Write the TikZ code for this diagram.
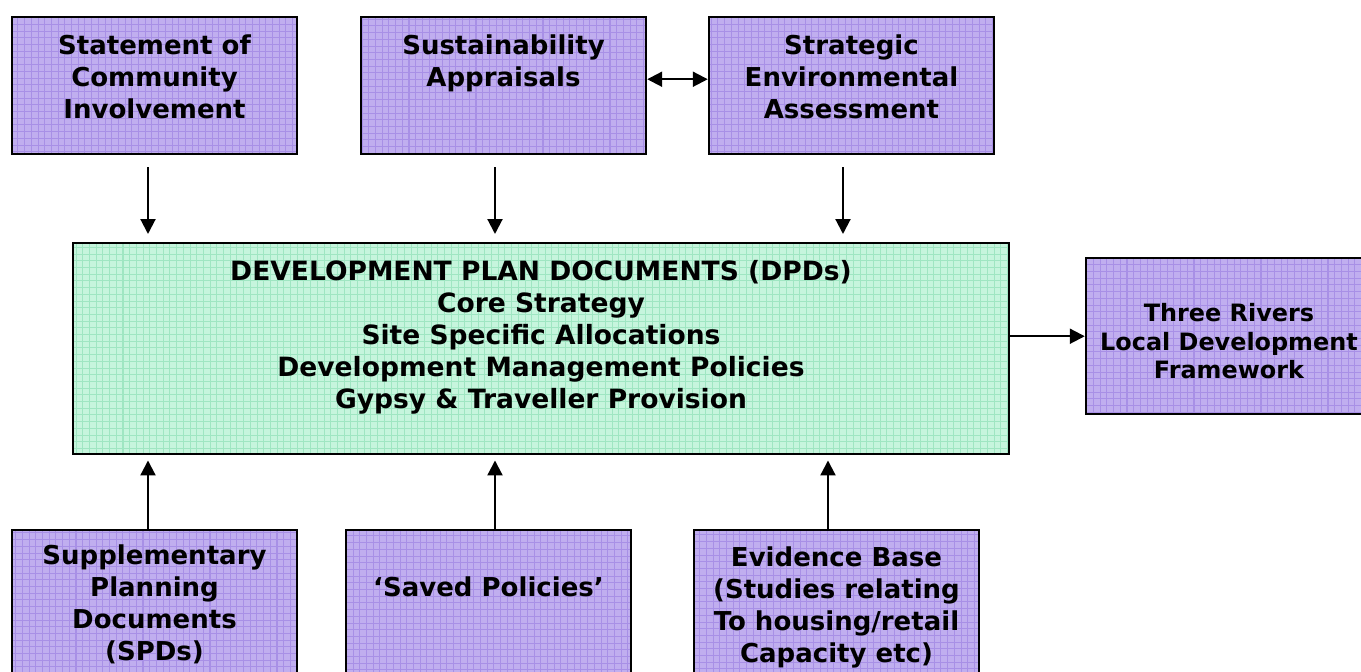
\documentclass[tikz,border=0pt]{standalone}
\usepackage{fontspec}
\setmainfont{DejaVu Sans}
\usetikzlibrary{arrows.meta,positioning}
\definecolor{lilac}{HTML}{C0AEEF}
\definecolor{lilacgrid}{HTML}{A890E6}
\definecolor{mint}{HTML}{C6F5DD}
\definecolor{mintgrid}{HTML}{9FE6C2}

\begin{document}
\begin{tikzpicture}[>={Triangle[length=0.15cm,width=0.15cm]},
  box/.style={draw=black,line width=0.7pt,fill=#1,anchor=north,align=center,
    minimum width=2.85cm,inner ysep=0pt,
    font=\bfseries\fontsize{7.4}{9.1}\selectfont,
    path picture={\draw[#1grid,line width=0.3pt] (path picture bounding box.south west) grid[step=0.067] (path picture bounding box.north east);}},
  box/.default=lilac,
  arrow/.style={->,line width=0.6pt}]
  \useasboundingbox (0,0) rectangle (13.61,-6.72);
  % top row
  \node[box,text height=1.01cm,text depth=0.36cm] (sci) at (1.545,-0.16) {Statement of\\Community\\Involvement};
  \node[box,text height=0.69cm,text depth=0.68cm] (sa) at (5.035,-0.16) {Sustainability\\Appraisals};
  \node[box,text height=1.01cm,text depth=0.36cm] (sea) at (8.515,-0.16) {Strategic\\Environmental\\Assessment};
  % main box and output
  \node[box=mint,minimum width=9.36cm,text height=1.65cm,text depth=0.46cm,font=\bfseries\fontsize{7.55}{9.1}\selectfont] (dpd) at (5.41,-2.42)
    {DEVELOPMENT PLAN DOCUMENTS (DPDs)\\Core Strategy\\Site Specific Allocations\\Development Management Policies\\Gypsy \& Traveller Provision};
  \node[box,minimum width=2.86cm,text height=1.205cm,text depth=0.355cm,font=\bfseries\fontsize{6.8}{8.1}\selectfont] (tr) at (12.29,-2.57)
    {Three Rivers\\Local Development\\Framework};
  % bottom row
  \node[box,text height=1.3cm,text depth=0.2cm] (spd) at (1.545,-5.29) {Supplementary\\Planning\\Documents\\(SPDs)};
  \node[box,text height=0.66cm,text depth=0.84cm] (saved) at (4.885,-5.29) {‘Saved Policies’};
  \node[box,text height=1.32cm,text depth=0.18cm] (evid) at (8.365,-5.29) {Evidence Base\\(Studies relating\\To housing/retail\\Capacity etc)};

  \draw[arrow] ([xshift=-0.065cm,yshift=-0.12cm]sci.south) -- ([xshift=-0.065cm,yshift=0.08cm]sci.south |- dpd.north);
  \draw[arrow] ([xshift=-0.085cm,yshift=-0.12cm]sa.south) -- ([xshift=-0.085cm,yshift=0.08cm]sa.south |- dpd.north);
  \draw[arrow] ([xshift=-0.085cm,yshift=-0.12cm]sea.south) -- ([xshift=-0.085cm,yshift=0.08cm]sea.south |- dpd.north);
  \draw[arrow,<->] ([yshift=0.065cm]sa.east) -- ([yshift=0.065cm]sea.west);
  \draw[arrow] (dpd.east |- tr.west) -- (tr.west);
  \draw[arrow] ([xshift=-0.065cm]spd.north) -- ([xshift=-0.065cm,yshift=-0.05cm]spd.north |- dpd.south);
  \draw[arrow] ([xshift=0.065cm]saved.north) -- ([xshift=0.065cm,yshift=-0.05cm]saved.north |- dpd.south);
  \draw[arrow] ([xshift=-0.085cm]evid.north) -- ([xshift=-0.085cm,yshift=-0.05cm]evid.north |- dpd.south);
\end{tikzpicture}
\end{document}
